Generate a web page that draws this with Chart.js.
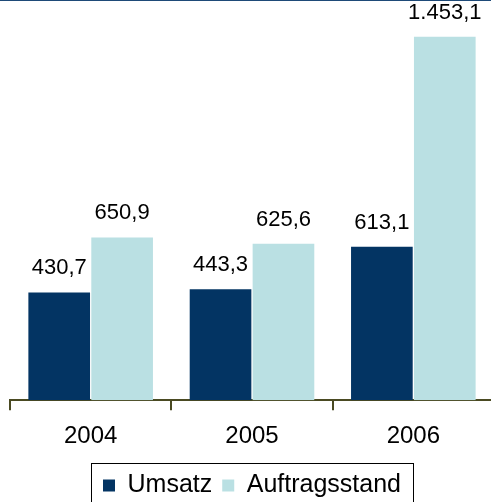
<!DOCTYPE html>
<html>
<head>
<meta charset="utf-8">
<script src="https://cdn.jsdelivr.net/npm/chart.js@4"></script>
<style>
  html, body { margin: 0; padding: 0; background: #fff; overflow: hidden; }
  #wrap { position: relative; width: 491px; height: 502px; overflow: hidden; }
  #box { position: absolute; left: 0; top: 0; width: 494px; height: 508px; }
  #topline { position: absolute; left: 0; top: 0; width: 491px; height: 1px; background: #1e4a78; z-index: 2; }
</style>
</head>
<body>
<div id="wrap">
  <div id="topline"></div>
  <div id="box"><canvas id="c" width="494" height="508"></canvas></div>
</div>
<script>
const categories = ['2004', '2005', '2006'];
const umsatz = [430.7, 443.3, 613.1];
const auftragsstand = [650.9, 625.6, 1453.1];
const seriesNames = ['Umsatz', 'Auftragsstand'];

function fmt(v) {
  const parts = v.toFixed(1).split('.');
  const intPart = parts[0].replace(/\B(?=(\d{3})+(?!\d))/g, '.');
  return intPart + ',' + parts[1];
}

const valueLabels = {
  id: 'valueLabels',
  afterDatasetsDraw(chart) {
    const ctx = chart.ctx;
    ctx.save();
    ctx.font = '22px "Liberation Sans", Arial, sans-serif';
    ctx.fillStyle = '#000';
    ctx.textAlign = 'center';
    ctx.textBaseline = 'alphabetic';
    chart.data.datasets.forEach((ds, i) => {
      chart.getDatasetMeta(i).data.forEach((el, j) => {
        ctx.fillText(fmt(ds.data[j]), el.x, el.y - 18);
      });
    });
    ctx.restore();
  }
};

const legendBox = {
  id: 'legendBox',
  afterDraw(chart) {
    const hb = chart.legend.legendHitBoxes;
    if (!hb || !hb.length) return;
    const ctx = chart.ctx;
    const left = hb[0].left - 12;
    const last = hb[hb.length - 1];
    const right = last.left + last.width + 12;
    const cy = hb[0].top + hb[0].height / 2;
    ctx.save();
    ctx.strokeStyle = '#000';
    ctx.lineWidth = 1;
    ctx.strokeRect(Math.round(left) + 0.5, Math.round(cy - 23) + 0.5, Math.round(right - left), 46);
    ctx.restore();
  }
};

new Chart(document.getElementById('c'), {
  type: 'bar',
  data: {
    labels: categories,
    datasets: [
      { label: seriesNames[0], data: umsatz, backgroundColor: '#033463', borderWidth: 0 },
      { label: seriesNames[1], data: auftragsstand, backgroundColor: '#bae0e3', borderWidth: 0 }
    ]
  },
  options: {
    responsive: false,
    animation: false,
    devicePixelRatio: 1,
    layout: { padding: { left: 10, right: 0, top: 0, bottom: 0 } },
    datasets: { bar: { categoryPercentage: 0.78, barPercentage: 0.98 } },
    scales: {
      x: {
        grid: { display: true, drawOnChartArea: false, drawTicks: true, tickLength: 10, color: '#4a4a22', lineWidth: 2, offset: true },
        border: { display: true, color: '#4a4a22', width: 2 },
        ticks: { color: '#000', font: { family: '"Liberation Sans", Arial, sans-serif', size: 24 }, padding: 12 }
      },
      y: {
        display: false,
        min: 0,
        max: 1600
      }
    },
    plugins: {
      legend: {
        position: 'bottom',
        labels: {
          boxWidth: 12,
          boxHeight: 12,
          color: '#000',
          padding: 10,
          font: { family: '"Liberation Sans", Arial, sans-serif', size: 25 }
        }
      },
      tooltip: { enabled: false }
    }
  },
  plugins: [valueLabels, legendBox]
});
</script>
</body>
</html>
